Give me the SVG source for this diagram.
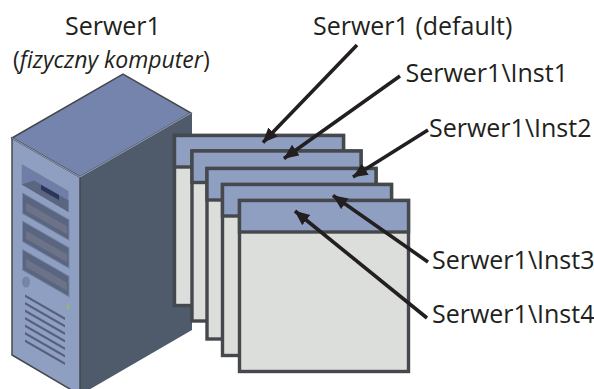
<svg xmlns="http://www.w3.org/2000/svg" width="594" height="389" viewBox="0 0 594 389">
<style>
text{font-family:"Open Sans","Noto Sans","Liberation Sans",sans-serif;font-size:25px;fill:#231f20}
.b{fill:#dcdedb;stroke:#45484c;stroke-width:3.4}
.h{fill:#8f9fc2;stroke:#45484c;stroke-width:3.4}
.a{stroke:#231f20;stroke-width:3.6;fill:none;marker-end:url(#m)}
.slot{fill:#5a6580;stroke:#7684a8;stroke-width:1}
.bar{fill:#6c7288}
.v{fill:#565f7e}
</style>
<defs><marker id="m" markerUnits="userSpaceOnUse" markerWidth="16" markerHeight="14" refX="14.5" refY="6.5" orient="auto"><path d="M0 0L15 6.5L0 13Z" fill="#231f20"/></marker></defs>
<g id="server">
<path d="M12 138L123 74L191 113L80 177Z" fill="#7484ad" stroke="#45484c" stroke-width="1.5"/>
<path d="M80 177L192 113V330L80 395Z" fill="#4f5a6b"/>
<path d="M12 138L80 177V395L12 355Z" fill="#8f9fc2" stroke="#45484c" stroke-width="1.5"/>
<path d="M12 138L80 177L191 113" fill="none" stroke="#a8b4d0" stroke-width=".8"/>
<g transform="matrix(1 .577 0 1 0 0)">
<path d="M21.7 151.5H68.5V172.500L21.700 172Z" fill="#6f7ea6"/>
<path d="M21.700 172L34 161H68.500V172.500Z" fill="#5a6580"/>
<rect x="41" y="161" width="18" height="5" fill="#2c3558"/>
<rect x="22.500" y="180" width="46.500" height="20.500" class="slot"/>
<rect x="26" y="187.700" width="41" height="8" class="bar"/>
<rect x="22.500" y="208" width="46.500" height="20.500" class="slot"/>
<rect x="26" y="215.700" width="41" height="8" class="bar"/>
<rect x="22.500" y="236.500" width="46.500" height="20.500" class="slot"/>
<rect x="26" y="244" width="41" height="8" class="bar"/>
<rect x="25" y="280" width="40" height="2.600" class="v"/><rect x="25" y="287.500" width="40" height="2.600" class="v"/><rect x="25" y="295" width="40" height="2.600" class="v"/><rect x="25" y="302.500" width="40" height="2.600" class="v"/><rect x="25" y="310" width="40" height="2.600" class="v"/><rect x="25" y="317.500" width="40" height="2.600" class="v"/><rect x="25" y="325" width="40" height="2.600" class="v"/>
</g>
<ellipse cx="26" cy="282" rx="4" ry="5.500" fill="#7684a8"/>
<rect x="67" y="305" width="2" height="4" fill="#8cc152"/>
</g>
<g id="inst0"><rect class="b" x="174.500" y="135.500" width="169" height="170"/><rect class="h" x="174.500" y="135.500" width="169" height="31.500"/></g>
<g id="inst1"><rect class="b" x="192" y="151" width="169" height="170"/><rect class="h" x="192" y="151" width="169" height="31.500"/></g>
<g id="inst2"><rect class="b" x="207" y="168.500" width="169" height="170.500"/><rect class="h" x="207" y="168.500" width="169" height="31.500"/></g>
<g id="inst3"><rect class="b" x="222.500" y="184.500" width="169" height="171"/><rect class="h" x="222.500" y="184.500" width="169" height="31.500"/></g>
<g id="inst4"><rect class="b" x="239.500" y="200.500" width="169" height="171"/><rect class="h" x="239.500" y="200.500" width="169" height="31.500"/></g>
<g id="connectors">
<path class="a" d="M357 45L263 142.500"/>
<path class="a" d="M400 76L284 158.500"/>
<path class="a" d="M428 130L353 177"/>
<path class="a" d="M428 262L333 195.500"/>
<path class="a" d="M427 318L295 211"/>
</g>
<g id="labels">
<text x="65" y="35">Serwer1</text>
<text x="13" y="68" font-size="23" style="font-size:23px">(<tspan font-style="italic">fizyczny komputer</tspan>)</text>
<text x="313" y="35">Serwer1 (default)</text>
<text x="405.500" y="82">Serwer1\Inst1</text>
<text x="429" y="136.500">Serwer1\Inst2</text>
<text x="432" y="269">Serwer1\Inst3</text>
<text x="432" y="323">Serwer1\Inst4</text>
</g>
</svg>
